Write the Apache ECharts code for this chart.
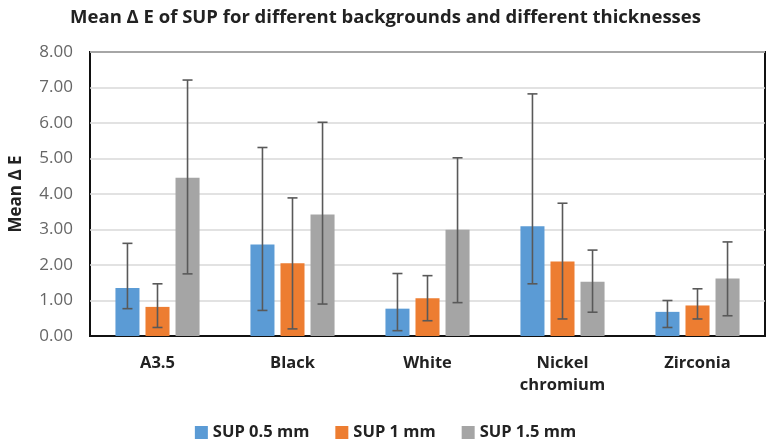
<!DOCTYPE html>
<html>
<head>
<meta charset="utf-8">
<script src="https://cdn.jsdelivr.net/npm/echarts@6/dist/echarts.min.js"></script>
<style>html,body{margin:0;padding:0;background:#fff}#c{width:771px;height:441px}</style>
</head>
<body>
<div id="c"></div>
<script>
const categories = ['A3.5', 'Black', 'White', 'Nickel\nchromium', 'Zirconia'];
const seriesNames = ['SUP 0.5 mm', 'SUP 1 mm', 'SUP 1.5 mm'];
const mean05 = [1.35, 2.58, 0.77, 3.09, 0.68];
const low05 = [0.77, 0.72, 0.15, 1.47, 0.24];
const high05 = [2.61, 5.31, 1.76, 6.82, 1.00];
const mean10 = [0.82, 2.05, 1.06, 2.10, 0.86];
const low10 = [0.24, 0.20, 0.43, 0.48, 0.48];
const high10 = [1.47, 3.89, 1.70, 3.74, 1.33];
const mean15 = [4.46, 3.42, 2.99, 1.53, 1.62];
const low15 = [1.75, 0.90, 0.94, 0.67, 0.57];
const high15 = [7.21, 6.02, 5.02, 2.42, 2.65];
const yTicks = [0, 1, 2, 3, 4, 5, 6, 7, 8];

const colors = ['#5B9BD5', '#ED7D31', '#A5A5A5'];
const means = [mean05, mean10, mean15];
const lows = [low05, low10, low15];
const highs = [high05, high10, high15];
const BW = 0.178; // bar width fraction of band
const font = '"Open Sans", "DejaVu Sans", sans-serif';

const series = [];
means.forEach((m, i) => {
  series.push({
    name: seriesNames[i], type: 'bar', data: m,
    barWidth: (BW * 100) + '%', barGap: '25%',
    itemStyle: { color: colors[i] }
  });
});
means.forEach((m, i) => {
  series.push({
    type: 'custom', silent: true, z: 5,
    data: m.map((v, k) => [k, lows[i][k], highs[i][k]]),
    encode: { x: 0, y: [1, 2] },
    renderItem: function (params, api) {
      const band = api.size([1, 0])[0];
      const off = (i - 1) * 1.25 * BW * band;
      const p1 = api.coord([api.value(0), api.value(1)]);
      const p2 = api.coord([api.value(0), api.value(2)]);
      const x = p1[0] + off;
      const cap = 5;
      const st = { stroke: '#595959', lineWidth: 1.6 };
      return {
        type: 'group', children: [
          { type: 'line', shape: { x1: x, y1: p1[1], x2: x, y2: p2[1] }, style: st },
          { type: 'line', shape: { x1: x - cap, y1: p1[1], x2: x + cap, y2: p1[1] }, style: st },
          { type: 'line', shape: { x1: x - cap, y1: p2[1], x2: x + cap, y2: p2[1] }, style: st }
        ]
      };
    }
  });
});

const chart = echarts.init(document.getElementById('c'));
chart.setOption({
  animation: false,
  title: {
    text: 'Mean Δ E of SUP for different backgrounds and different thicknesses',
    left: 'center', top: 3,
    textStyle: { fontFamily: font, fontWeight: 'bold', fontSize: 18.5, color: '#222' }
  },
  legend: {
    data: seriesNames, top: 419, left: 'center',
    icon: 'rect', itemWidth: 13, itemHeight: 13, itemGap: 26,
    textStyle: { fontFamily: font, fontWeight: 'bold', fontSize: 16.5, color: '#222' }
  },
  grid: {
    left: 88, right: 6, top: 52, bottom: 105,
    show: true, borderColor: '#111', borderWidth: 2
  },
  xAxis: {
    type: 'category', data: categories,
    axisLine: { lineStyle: { color: '#111', width: 2 } },
    axisTick: { show: false },
    axisLabel: { fontFamily: font, fontWeight: 'bold', fontSize: 16.5, color: '#222', margin: 16, lineHeight: 22 }
  },
  yAxis: {
    type: 'value', min: 0, max: 8, interval: 1,
    name: 'Mean Δ E', nameLocation: 'middle', nameGap: 65, nameRotate: 90,
    nameTextStyle: { fontFamily: font, fontWeight: 'bold', fontSize: 17, color: '#222' },
    axisLine: { show: false }, axisTick: { show: false },
    axisLabel: { fontFamily: font, fontSize: 17, color: '#666', margin: 17,
      formatter: v => yTicks.includes(v) ? v.toFixed(2) : '' },
    splitLine: { lineStyle: { color: '#d9d9d9', width: 1.5 } }
  },
  series: series
});
</script>
</body>
</html>
